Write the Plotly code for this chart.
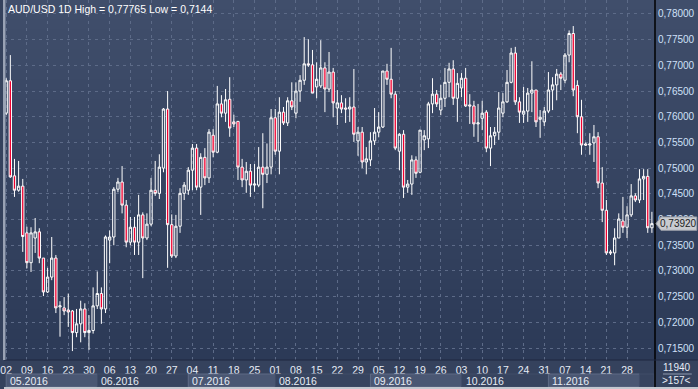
import plotly.graph_objects as go

# ---------------- data ----------------
# trading-day index 0..156 = 02.05.2016 .. 06.12.2016 (daily bars, Mon-Fri)
opens = [0.7607,0.7670,0.7485,0.7457,0.7465,0.7374,0.7316,0.7364,0.7376,0.7325,
         0.7259,0.7288,0.7325,0.7230,0.7228,0.7224,0.7222,0.7180,0.7197,0.7226,
         0.7180,0.7184,0.7232,0.7256,0.7226,0.7360,0.7366,0.7459,0.7473,0.7428,
         0.7356,0.7385,0.7356,0.7409,0.7364,0.7391,0.7457,0.7451,0.7500,0.7615,
         0.7390,0.7329,0.7387,0.7451,0.7457,0.7496,0.7539,0.7463,0.7521,0.7481,
         0.7564,0.7531,0.7625,0.7607,0.7634,0.7590,0.7591,0.7502,0.7477,0.7494,
         0.7467,0.7467,0.7502,0.7488,0.7502,0.7598,0.7533,0.7609,0.7588,0.7631,
         0.7607,0.7650,0.7671,0.7703,0.7701,0.7658,0.7660,0.7695,0.7654,0.7687,
         0.7617,0.7627,0.7617,0.7615,0.7619,0.7553,0.7570,0.7512,0.7516,0.7553,
         0.7570,0.7580,0.7689,0.7673,0.7644,0.7533,0.7566,0.7463,0.7469,0.7516,
         0.7492,0.7555,0.7557,0.7625,0.7644,0.7613,0.7636,0.7667,0.7693,0.7636,
         0.7656,0.7675,0.7623,0.7621,0.7586,0.7597,0.7609,0.7539,0.7563,0.7570,
         0.7607,0.7629,0.7667,0.7724,0.7629,0.7605,0.7611,0.7646,0.7652,0.7595,
         0.7590,0.7611,0.7652,0.7662,0.7683,0.7671,0.7720,0.7762,0.7661,0.7600,
         0.7547,0.7545,0.7549,0.7561,0.7471,0.7418,0.7337,0.7335,0.7364,0.7397,
         0.7385,0.7409,0.7446,0.7438,0.7479,0.7484,0.7384]
highs = [0.7675,0.7720,0.7518,0.7514,0.7479,0.7386,0.7385,0.7403,0.7383,0.7325,
         0.7306,0.7366,0.7331,0.7241,0.7249,0.7256,0.7224,0.7226,0.7242,0.7237,
         0.7214,0.7268,0.7299,0.7268,0.7369,0.7379,0.7463,0.7481,0.7504,0.7438,
         0.7405,0.7405,0.7448,0.7414,0.7412,0.7481,0.7514,0.7527,0.7617,0.7650,
         0.7410,0.7409,0.7461,0.7473,0.7502,0.7547,0.7547,0.7529,0.7539,0.7576,
         0.7576,0.7660,0.7642,0.7654,0.7677,0.7604,0.7591,0.7518,0.7512,0.7508,
         0.7508,0.7541,0.7568,0.7548,0.7615,0.7615,0.7638,0.7619,0.7638,0.7667,
         0.7667,0.7681,0.7755,0.7751,0.7730,0.7706,0.7749,0.7706,0.7726,0.7695,
         0.7652,0.7642,0.7636,0.7638,0.7693,0.7580,0.7580,0.7541,0.7570,0.7617,
         0.7609,0.7689,0.7703,0.7734,0.7650,0.7568,0.7574,0.7477,0.7525,0.7523,
         0.7574,0.7574,0.7629,0.7675,0.7652,0.7662,0.7695,0.7705,0.7710,0.7685,
         0.7685,0.7695,0.7644,0.7631,0.7625,0.7631,0.7613,0.7580,0.7580,0.7648,
         0.7646,0.7691,0.7734,0.7736,0.7638,0.7658,0.7656,0.7708,0.7652,0.7613,
         0.7619,0.7687,0.7677,0.7693,0.7687,0.7724,0.7768,0.77765,0.7671,0.7633,
         0.7550,0.7568,0.7584,0.7570,0.7502,0.7438,0.7341,0.7383,0.7412,0.7444,
         0.7426,0.7469,0.7451,0.7498,0.7498,0.7498,0.7415]
lows = [0.7603,0.7481,0.7444,0.7454,0.7337,0.7305,0.7298,0.7335,0.7315,0.7251,
        0.7257,0.7282,0.7218,0.7172,0.7214,0.7191,0.7144,0.7171,0.7161,0.7171,
        0.7146,0.7178,0.7226,0.7197,0.7218,0.7315,0.7350,0.7453,0.7412,0.7346,
        0.7350,0.7331,0.7331,0.7286,0.7360,0.7387,0.7446,0.7440,0.7492,0.7306,
        0.7325,0.7325,0.7374,0.7438,0.7448,0.7457,0.7457,0.7409,0.7467,0.7471,
        0.7521,0.7529,0.7599,0.7590,0.7561,0.7580,0.7477,0.7463,0.7452,0.7444,
        0.7454,0.7463,0.7422,0.7471,0.7488,0.7526,0.7488,0.7584,0.7582,0.7613,
        0.7597,0.7629,0.7662,0.7697,0.7646,0.7636,0.7656,0.7609,0.7648,0.7599,
        0.7584,0.7607,0.7588,0.7590,0.7551,0.7524,0.7500,0.7488,0.7504,0.7545,
        0.7560,0.7578,0.7662,0.7636,0.7535,0.7496,0.7442,0.7452,0.7448,0.7481,
        0.7490,0.7535,0.7539,0.7607,0.7619,0.7603,0.7619,0.7638,0.7623,0.7590,
        0.7638,0.7619,0.7586,0.7561,0.7551,0.7574,0.7531,0.7504,0.7545,0.7555,
        0.7599,0.7627,0.7665,0.7623,0.7588,0.7588,0.7590,0.7609,0.7580,0.7559,
        0.7582,0.7607,0.7613,0.7632,0.7652,0.7665,0.7706,0.7640,0.7568,0.7526,
        0.7543,0.7526,0.7512,0.7461,0.7395,0.7331,0.7331,0.7311,0.7364,0.7374,
        0.7364,0.7405,0.7434,0.7432,0.7438,0.7374,0.7374]
closes = [0.7670,0.7483,0.7457,0.7465,0.7367,0.7316,0.7374,0.7376,0.7325,0.7259,
          0.7288,0.7325,0.7228,0.7232,0.7222,0.7220,0.7180,0.7197,0.7226,0.7180,
          0.7184,0.7232,0.7256,0.7226,0.7366,0.7366,0.7459,0.7473,0.7428,0.7356,
          0.7385,0.7356,0.7409,0.7364,0.7391,0.7457,0.7451,0.7502,0.7615,0.7390,
          0.7329,0.7387,0.7451,0.7467,0.7496,0.7539,0.7463,0.7521,0.7481,0.7570,
          0.7531,0.7625,0.7607,0.7633,0.7578,0.7586,0.7502,0.7477,0.7494,0.7467,
          0.7469,0.7502,0.7488,0.7502,0.7598,0.7533,0.7609,0.7588,0.7631,0.7619,
          0.7650,0.7671,0.7703,0.7701,0.7646,0.7673,0.7695,0.7654,0.7687,0.7627,
          0.7627,0.7615,0.7615,0.7619,0.7566,0.7570,0.7512,0.7518,0.7553,0.7570,
          0.7580,0.7689,0.7673,0.7644,0.7539,0.7566,0.7463,0.7469,0.7516,0.7490,
          0.7574,0.7563,0.7625,0.7644,0.7625,0.7636,0.7667,0.7693,0.7636,0.7665,
          0.7675,0.7621,0.7621,0.7586,0.7588,0.7607,0.7539,0.7563,0.7570,0.7617,
          0.7629,0.7667,0.7724,0.7629,0.7609,0.7611,0.7646,0.7652,0.7590,0.7599,
          0.7611,0.7652,0.7662,0.7683,0.7675,0.7720,0.7762,0.7652,0.7600,0.7545,
          0.7545,0.7547,0.7561,0.7471,0.7418,0.7335,0.7335,0.7364,0.7401,0.7385,
          0.7409,0.7446,0.7438,0.7479,0.7484,0.7384,0.7392]

bar_index = list(range(len(closes)))

# weekly (Monday) labels on the time axis
week_ticks = list(range(0, 151, 5))
week_labels = ["02","09","16","23","30","06","13","20","27","04","11","18","25",
               "01","08","15","22","29","05","12","19","26","03","10","17","24",
               "31","07","14","21","28"]
# month bands on the time axis
month_starts = [0, 22, 44, 65, 88, 110, 131, 153]
month_labels = ["05.2016","06.2016","07.2016","08.2016","09.2016","10.2016","11.2016",""]

price_ticks = [0.715,0.72,0.725,0.73,0.735,0.74,0.745,0.75,0.755,0.76,0.765,0.77,0.775,0.78]
price_labels = [f"{v:.5f}".replace(".", ",") for v in price_ticks]

title_text = "AUD/USD 1D High = 0,77765 Low = 0,7144"
bars_count_text = "11940"
bars_shown_text = ">157<"

# ---------------- figure ----------------
W, H = 698, 389
PLOT_R = 655      # right edge of plot area (px)
PLOT_B = 360      # bottom edge of plot area (px)

fig = go.Figure()
fig.add_trace(go.Candlestick(
    x=bar_index, open=opens, high=highs, low=lows, close=closes,
    increasing=dict(line=dict(color="#ffffff", width=1), fillcolor="rgba(0,0,0,0)"),
    decreasing=dict(line=dict(color="#ffffff", width=1), fillcolor="#f00030"),
    whiskerwidth=0, showlegend=False, hoverinfo="skip",
))

# background gradient (plot + right scale)
top = (0x40, 0x4e, 0x6b)
bot = (0x2c, 0x3a, 0x57)
n = 36
shapes = []
for k in range(n):
    t = k / (n - 1)
    c = tuple(round(top[j] + (bot[j] - top[j]) * t) for j in range(3))
    shapes.append(dict(type="rect", xref="paper", yref="paper",
                       x0=0, x1=W / PLOT_R + 0.01, y0=1 - (k + 1) / n, y1=1 - k / n + 0.001,
                       fillcolor="rgb(%d,%d,%d)" % c, line=dict(width=0), layer="below"))

py = lambda p: (PLOT_B - p) / PLOT_B   # px -> paper y
px = lambda p: p / PLOT_R              # px -> paper x

# month boxes
for j in range(len(month_starts)):
    x0 = month_starts[j]
    x1 = month_starts[j + 1] if j + 1 < len(month_starts) else len(closes) - 0.5
    light = (j % 2 == 0)
    shapes.append(dict(type="rect", xref="x", yref="paper", x0=x0, x1=x1,
                       y0=py(387), y1=py(374),
                       fillcolor="#4a5773" if light else "#37445f",
                       line=dict(color="#5e6b86" if light else "#404d68", width=1),
                       layer="above"))

# right scale separator and bottom border
shapes.append(dict(type="line", xref="paper", yref="paper", x0=1, x1=1, y0=py(H), y1=1,
                   line=dict(color="#000000", width=1.5)))
shapes.append(dict(type="line", xref="paper", yref="paper", x0=0, x1=px(W), y0=0, y1=0,
                   line=dict(color="#1e2740", width=1)))
shapes.append(dict(type="rect", xref="paper", yref="paper", x0=0, x1=px(W + 2),
                   y0=py(H + 2), y1=py(387), fillcolor="#c4c8d0", line=dict(width=0)))
shapes.append(dict(type="rect", xref="paper", yref="paper", x0=px(-1), x1=px(1.5),
                   y0=0, y1=1, fillcolor="#9aa3b5", line=dict(width=0)))
# line in bottom-right corner box
shapes.append(dict(type="line", xref="paper", yref="paper", x0=px(663), x1=px(692),
                   y0=py(374), y1=py(374), line=dict(color="#8f9ab0", width=1)))

# last-price tag
last = closes[-1]
dy = 0.0013
shapes.append(dict(type="path", xref="paper", yref="y",
                   path=f"M {px(656)} {last} L {px(661)} {last+dy} L {px(697)} {last+dy} "
                        f"L {px(697)} {last-dy} L {px(661)} {last-dy} Z",
                   fillcolor="#c9cbd0", line=dict(color="#9a9ea8", width=1)))

annotations = [
    dict(text=title_text, xref="paper", yref="paper", x=px(2), y=1, xanchor="left",
         yanchor="top", yshift=-1, showarrow=False,
         font=dict(family="Liberation Sans", size=10.5, color="#ffffff")),
    dict(text=f"{last:.5f}".replace(".", ","), xref="paper", yref="y", x=px(679), y=last,
         xanchor="center", yanchor="middle", showarrow=False,
         font=dict(family="Liberation Sans", size=10, color="#222222")),
    dict(text=bars_count_text, xref="paper", yref="paper", x=px(677), y=py(367.5),
         xanchor="center", yanchor="middle", showarrow=False,
         font=dict(family="Liberation Sans", size=10, color="#e6ecf5")),
    dict(text=bars_shown_text, xref="paper", yref="paper", x=px(677), y=py(380.5),
         xanchor="center", yanchor="middle", showarrow=False,
         font=dict(family="Liberation Sans", size=10, color="#e6ecf5")),
]
for j, lab in enumerate(month_labels):
    if lab:
        annotations.append(dict(text=lab, xref="x", yref="paper", x=month_starts[j], y=py(380.5),
                                xanchor="left", yanchor="middle", xshift=2, showarrow=False,
                                font=dict(family="Liberation Sans", size=10.5, color="#e6ecf5")))

fig.update_layout(
    width=W, height=H,
    margin=dict(l=0, r=W - PLOT_R, t=0, b=H - PLOT_B),
    paper_bgcolor="#35425d",
    plot_bgcolor="rgba(0,0,0,0)",
    boxgap=0.2,
    shapes=shapes, annotations=annotations,
    showlegend=False,
    xaxis=dict(range=[-0.53, 156.75], rangeslider=dict(visible=False),
               tickmode="array", tickvals=week_ticks, ticktext=week_labels,
               showgrid=True, gridcolor="#5d6b88", griddash="3px,4px", gridwidth=1,
               zeroline=False, showline=False, ticks="", ticklabelstandoff=2,
               ticklabeloverflow="allow",
               tickfont=dict(family="Liberation Sans", size=10.5, color="#e6ecf5"),
               fixedrange=True),
    yaxis=dict(side="right", range=[0.78272 - 0.0001946 * PLOT_B, 0.78272],
               tickmode="array", tickvals=price_ticks, ticktext=price_labels,
               showgrid=True, gridcolor="#5d6b88", griddash="3px,4px", gridwidth=1,
               zeroline=False, showline=False, ticks="", ticklabelstandoff=2,
               tickfont=dict(family="Liberation Sans", size=10, color="#cfe0f8"),
               fixedrange=True),
)

fig.write_html("out.html", config={"displayModeBar": False},
               post_script="document.body.style.margin='0';document.body.style.overflow='hidden';")
